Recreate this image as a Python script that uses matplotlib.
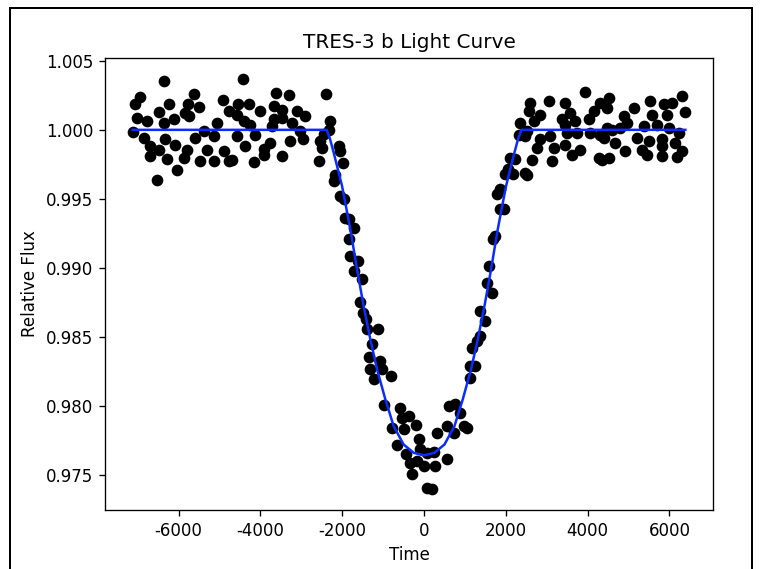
import matplotlib
matplotlib.use("Agg")
import matplotlib.pyplot as plt
from matplotlib.patches import Rectangle

plt.rcParams['axes.unicode_minus'] = False

time = [
    -6367, -6936, -5633, -4924, -7076, -6245, -5770, -5494, -6489, -7017,
    -5853, -6122, -6773, -6367, -5738, -5061, -4778, -7125, -6856, -6325,
    -5592, -5389, -5144, -6692, -6081, -6489, -5795, -5306, -4900, -6692,
    -6284, -5878, -5470, -5144, -4778, -6039, -6528,
    -4425, -3611, -3311, -2389, -4557, -4289, -4002, -3677, -3472, -3105,
    -2902, -4572, -4411, -4247, -3677, -3472, -3227, -2308, -4572, -4125,
    -3716, -3024, -2333, -4369, -3922, -3758, -3269, -2958, -2535, -3922,
    -3472, -2494, -4694, -4149, -2577,
    -2455, -2088, -2046, -1980, -2169, -2210, -2046, -1949, -1924, -1844,
    -1721, -1844, -1802, -1623, -1721, -1516, -1557, -1491, -1411, -1394,
    -1134, -1271, -1355, -1086, -1313, -1027, -1232, -807, -971, -597,
    -538, -377, -782, -188, -499, -132, -660, -433, -90, -352,
    -171, -10, -293, 73, 196,
    318, 73, 252, 562, 276, 601, 765, 888, 562, 724,
    968, 1051, 1115, 1254, 1132, 1174, 1296, 1377, 1377, 1499,
    1540, 1663, 1579, 1743, 1687, 1866, 1946, 1866, 1785, 1988,
    2176, 2044, 2477, 2110, 2232, 2355, 2518,
    3944, 2599, 3046, 3455, 4311, 2557, 2844, 3577, 4164, 4474,
    2680, 3374, 3699, 4025, 2313, 2477, 2844, 3088, 3455, 3496,
    3741, 4066, 4311, 4474, 2763, 3169, 3455, 3822, 3619, 2641,
    3130, 4269, 4513, 2518,
    6308, 5533, 5858, 6064, 4513, 5125, 6389, 4880, 5575, 5941,
    5369, 5697, 4963, 4597, 4800, 5980, 6225, 4391, 4677, 5208,
    5491, 5819, 6144, 5330, 4922, 5819, 6308, 5452, 5819, 6186,
    4352,
]
flux = [
    1.00353, 1.00237, 1.00263, 1.00220, 1.00184, 1.00184, 1.00184, 1.00166, 1.00130, 1.00086,
    1.00123, 1.00082, 1.00062, 1.00050, 1.00099, 1.00050, 1.00135, 0.99983, 0.99941, 0.99937,
    0.99941, 0.99990, 0.99954, 0.99881, 0.99888, 0.99857, 0.99857, 0.99857, 0.99845, 0.99808,
    0.99792, 0.99796, 0.99772, 0.99777, 0.99772, 0.99712, 0.99639,
    1.00372, 1.00268, 1.00251, 1.00263, 1.00184, 1.00188, 1.00135, 1.00171, 1.00147, 1.00140,
    1.00099, 1.00111, 1.00062, 1.00038, 1.00075, 1.00086, 1.00050, 1.00062, 0.99954, 0.99966,
    1.00026, 0.99990, 1.00002, 0.99881, 0.99864, 0.99905, 0.99917, 0.99930, 0.99917, 0.99821,
    0.99808, 0.99869, 0.99784, 0.99767, 0.99772,
    0.99968, 0.99883, 0.99847, 0.99763, 0.99671, 0.99629, 0.99520, 0.99496, 0.99364, 0.99351,
    0.99291, 0.99206, 0.99085, 0.99049, 0.98976, 0.98916, 0.98751, 0.98674, 0.98626, 0.98558,
    0.98558, 0.98444, 0.98355, 0.98323, 0.98268, 0.98263, 0.98190, 0.98214, 0.98001, 0.97985,
    0.97912, 0.97924, 0.97840, 0.97856, 0.97827, 0.97755, 0.97711, 0.97646, 0.97689, 0.97586,
    0.97597, 0.97561, 0.97501, 0.97404, 0.97392,
    0.97798, 0.97658, 0.97663, 0.97610, 0.97561, 0.97996, 0.98009, 0.97948, 0.97851, 0.97803,
    0.97851, 0.97840, 0.98287, 0.98287, 0.98202, 0.98420, 0.98468, 0.98504, 0.98686, 0.98613,
    0.98892, 0.98819, 0.99012, 0.99230, 0.99206, 0.99424, 0.99424, 0.99569, 0.99533, 0.99678,
    0.99678, 0.99714, 0.99690, 0.99799, 0.99787, 1.00053, 0.99992,
    1.00275, 1.00195, 1.00208, 1.00195, 1.00195, 1.00135, 1.00111, 1.00123, 1.00135, 1.00159,
    1.00062, 1.00075, 1.00062, 1.00075, 0.99966, 0.99954, 0.99930, 0.99954, 1.00038, 0.99978,
    0.99978, 0.99978, 0.99966, 1.00014, 0.99869, 0.99869, 0.99893, 0.99857, 0.99821, 0.99784,
    0.99777, 0.99796, 0.99796, 0.99676,
    1.00244, 1.00208, 1.00184, 1.00195, 1.00231, 1.00159, 1.00130, 1.00099, 1.00111, 1.00111,
    1.00026, 1.00038, 1.00050, 1.00002, 1.00014, 1.00014, 0.99978, 0.99941, 0.99905, 0.99941,
    0.99917, 0.99930, 0.99905, 0.99857, 0.99850, 0.99881, 0.99845, 0.99821, 0.99808, 0.99801,
    0.99784,
]

# Transit model curve
model_time = [-7125, -2380, -2300, -2210, -2005, -1802, -1638, -1477, -1313, -1149,
              -946, -743, -499, -254, 0, 254, 499, 743, 946, 1149,
              1313, 1477, 1638, 1802, 2005, 2210, 2300, 2380, 6389]
model_flux = [1.0, 1.0, 0.99935, 0.99835, 0.99593, 0.99279, 0.98988, 0.98722, 0.98480, 0.98263,
              0.98045, 0.97851, 0.97718, 0.97658, 0.97639, 0.97658, 0.97718, 0.97851, 0.98045, 0.98263,
              0.98480, 0.98722, 0.98988, 0.99279, 0.99593, 0.99835, 0.99935, 1.0, 1.0]

fig = plt.figure(figsize=(762 / 120, 569 / 120), dpi=120)
ax = fig.add_axes([105 / 762, 1 - 510 / 569, 608 / 762, 452 / 569])

ax.scatter(time, flux, color='black', s=36, zorder=2)
ax.plot(model_time, model_flux, color='#0a2dff', lw=1.5, zorder=3)

ax.set_title('TRES-3 b Light Curve')
ax.set_xlabel('Time')
ax.set_ylabel('Relative Flux')
ax.set_xticks([-6000, -4000, -2000, 0, 2000, 4000, 6000])
ax.set_yticks([0.975, 0.980, 0.985, 0.990, 0.995, 1.000, 1.005])
ax.set_yticklabels(['0.975', '0.980', '0.985', '0.990', '0.995', '1.000', '1.005'])

# black frame around the figure
fig.patches.append(Rectangle((9.5 / 762, -0.2), 742 / 762, 1.2 - 7.5 / 569,
                             transform=fig.transFigure, fill=False,
                             edgecolor='black', lw=1.2))

fig.savefig('out.png', dpi=120)
